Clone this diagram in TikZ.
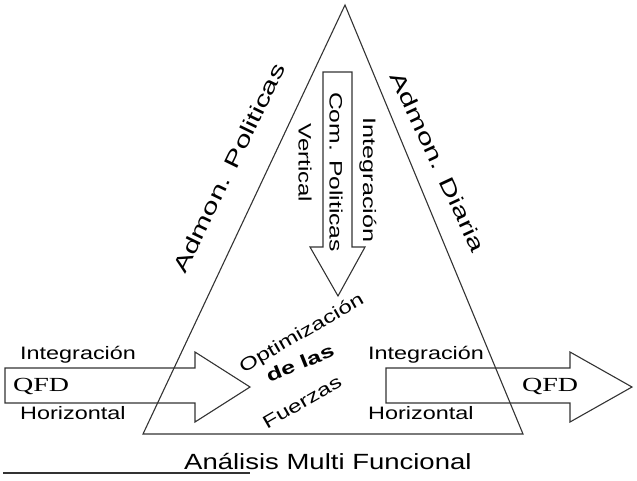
\documentclass[tikz,border=0pt]{standalone}
\usepackage{fontspec}
\setmainfont{Liberation Sans}
\newfontfamily\serifqfd{Liberation Serif}
\begin{document}
\begin{tikzpicture}[x=1pt,y=-1pt,
  line/.style={draw=black!80,line width=1.1pt,line join=miter},
  lbl/.style={inner sep=0pt,font=\fontsize{18}{20}\selectfont},
  big/.style={inner sep=0pt,font=\fontsize{21}{23}\selectfont},
  qfd/.style={inner sep=0pt,font=\serifqfd\fontsize{20}{22}\selectfont}]
\useasboundingbox (0,0) rectangle (637,480);
% triangle
\draw[line] (345,5) -- (523,434) -- (143,434) -- cycle;
% vertical arrow
\draw[line] (323,72) -- (352,72) -- (352,247) -- (365,247) -- (338,296) -- (310,247) -- (323,247) -- cycle;
% left arrow
\draw[line] (5,368) -- (195,368) -- (195,352) -- (250,387) -- (195,422) -- (195,403) -- (5,403) -- cycle;
% right arrow
\draw[line] (386,368) -- (570,368) -- (570,352) -- (632,387) -- (570,422) -- (570,403) -- (386,403) -- cycle;
% side labels
\node[big,rotate=64] (ap) at (229,168) {\scalebox{1.45}[1]{Admon. Politicas}};
\node[big,rotate=-65] (ad) at (438,162) {\scalebox{1.45}[1]{Admon. Diaria}};
% vertical texts
\node[lbl,rotate=-90] (vi) at (368,180) {\scalebox{1.4}[1]{Integración}};
\node[lbl,rotate=-90] (vc) at (336,172) {\scalebox{1.37}[1]{Com. Politicas}};
\node[lbl,rotate=-90] (vv) at (305,163) {\scalebox{1.33}[1]{Vertical}};
% center
\node[lbl,rotate=30] (op) at (302,334) {\scalebox{1.35}[1]{Optimización}};
\node[lbl,rotate=22,font=\bfseries\fontsize{18}{20}\selectfont] (dl) at (300,363) {\scalebox{1.4}[1]{de las}};
\node[lbl,rotate=30] (fu) at (302,402) {\scalebox{1.35}[1]{Fuerzas}};
% left texts
\node[lbl,anchor=west] (li) at (20,355) {\scalebox{1.3}[1]{Integración}};
\node[qfd,anchor=west] (lq) at (13,386) {\scalebox{1.4}[1]{QFD}};
\node[lbl,anchor=west] (lh) at (20,413) {\scalebox{1.3}[1]{Horizontal}};
% right texts
\node[lbl,anchor=west] (ri) at (368,355) {\scalebox{1.3}[1]{Integración}};
\node[qfd,anchor=west] (rq) at (522,386) {\scalebox{1.4}[1]{QFD}};
\node[lbl,anchor=west] (rh) at (368,413) {\scalebox{1.3}[1]{Horizontal}};
% bottom
\node[inner sep=0pt,font=\fontsize{22}{24}\selectfont,anchor=west] (am) at (184,461) {\scalebox{1.25}[1]{Análisis Multi Funcional}};
\draw[line,line width=1.3pt] (3,473) -- (250,473);
\end{tikzpicture}
\end{document}
